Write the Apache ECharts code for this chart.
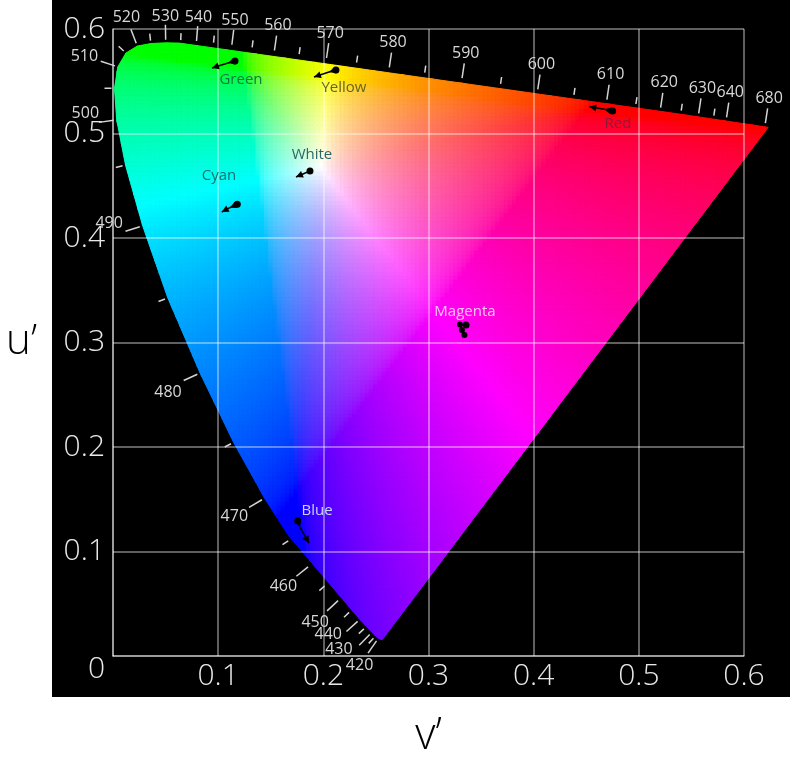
<!DOCTYPE html>
<html><head><meta charset="utf-8">
<script src="https://cdn.jsdelivr.net/npm/echarts/dist/echarts.min.js"></script>
<style>html,body{margin:0;padding:0;background:#fff}#c{width:790px;height:758px}</style>
</head><body><div id="c"></div>
<script>
// ---- Data ----
const wavelengths = [380,400,410,415,420,425,430,435,440,445,450,455,460,465,470,475,480,485,490,495,500,505,510,515,520,525,530,535,540,545,550,555,560,565,570,575,580,585,590,595,600,605,610,615,620,625,630,635,640,650,660,680,700];
const locusU = [.2568,.2557,.2545,.2535,.2522,.2496,.2461,.2407,.2347,.2266,.2161,.2033,.1877,.1690,.1441,.1147,.0828,.0521,.0282,.0119,.0035,.0014,.0046,.0123,.0231,.0360,.0501,.0643,.0792,.0953,.1127,.1319,.1531,.1766,.2026,.2312,.2623,.2960,.3315,.3681,.4035,.4379,.4692,.4968,.5203,.5399,.5565,.5709,.5830,.6005,.6109,.6199,.6234];
const locusV = [.0166,.0159,.0159,.0164,.0169,.0191,.0226,.0279,.0350,.0437,.0549,.0689,.0871,.1119,.1510,.2044,.2708,.3427,.4117,.4698,.5131,.5432,.5638,.5770,.5837,.5861,.5868,.5865,.5856,.5841,.5821,.5796,.5766,.5732,.5694,.5651,.5604,.5554,.5501,.5446,.5393,.5342,.5296,.5254,.5219,.5190,.5165,.5143,.5125,.5099,.5084,.5070,.5065];
const tickWavelengths = [420,425,430,435,440,445,450,455,460,465,470,475,480,485,490,495,500,505,510,515,520,525,530,535,540,545,550,555,560,565,570,575,580,585,590,595,600,605,610,615,620,625,630,635,640,680];
const labeledWavelengths = [420,430,440,450,460,470,480,490,500,510,520,530,540,550,560,570,580,590,600,610,620,630,640,680];
const axisTicks = [0,0.1,0.2,0.3,0.4,0.5,0.6];

const markerNames = ['Green','Yellow','Red','White','Cyan','Magenta','Blue'];
const markerPathU = [[.1160,.1093,.0941],[.2120,.2054,.1911],[.4751,.4672,.4529],[.1873,.1740],[.1182,.1110,.1034],[.3357,.3299,.3318,.3342],[.1756,.1778,.1864]];
const markerPathV = [[.5694,.5675,.5627],[.5608,.5589,.5541],[.5215,.5232,.5256],[.4641,.4584],[.4322,.4290,.4249],[.3167,.3172,.3120,.3072],[.1295,.1232,.1081]];
const markerLabelU = [.1217,.2196,.4802,.1892,.1008,.3347,.1940];
const markerLabelV = [.5512,.5435,.5091,.4794,.4593,.3292,.1388];

// ---- Styles ----
const markerLabelColors = ['#0f7a3c','#66661c','#8c1a3a','#2d6666','#157272','#f7c4f5','#c8d4ff'];
const markerArrow = [true,true,true,true,true,false,true];
const labelNudge = {500:[3,-11],490:[0,-13],480:[0,5],440:[-6,-8],430:[-9,-7]};
const cellStep = 0.004;
const satBoost = 0.3;
const gridColor = 'rgba(255,255,255,0.5)';

// ---- helpers ----
const poly = locusU.map((u,i)=>[u, locusV[i]]);
let area = 0;
for (let i=0;i<poly.length;i++){const a=poly[i],b=poly[(i+1)%poly.length];area+=a[0]*b[1]-b[0]*a[1];}
const sgn = area>0?1:-1;
const centroid = [poly.reduce((s,p)=>s+p[0],0)/poly.length, poly.reduce((s,p)=>s+p[1],0)/poly.length];

function clipPoly(subject){
  let out = subject;
  for (let i=0;i<poly.length;i++){
    const A=poly[i], B=poly[(i+1)%poly.length];
    const ex=B[0]-A[0], ey=B[1]-A[1];
    if (Math.abs(ex)+Math.abs(ey)<1e-9) continue;
    const inp=out; out=[];
    if(!inp.length) break;
    const cr = p => sgn*(ex*(p[1]-A[1]) - ey*(p[0]-A[0]));
    for (let j=0;j<inp.length;j++){
      const P=inp[j], Q=inp[(j+1)%inp.length];
      const cp=cr(P), cq=cr(Q);
      const pin=cp>=0, qin=cq>=0;
      if (pin){ out.push(P); if(!qin){const t=cp/(cp-cq); out.push([P[0]+t*(Q[0]-P[0]),P[1]+t*(Q[1]-P[1])]);} }
      else if (qin){ const t=cp/(cp-cq); out.push([P[0]+t*(Q[0]-P[0]),P[1]+t*(Q[1]-P[1])]); }
    }
  }
  return out;
}
function gam(c){return c<=0.0031308?12.92*c:1.055*Math.pow(c,1/2.4)-0.055;}
function chromaColor(u,v){
  const d=6*u-16*v+12; const x=9*u/d, y=4*v/d;
  const X=x/y, Y=1, Z=(1-x-y)/y;
  let r=3.2406*X-1.5372*Y-0.4986*Z, g=-0.9689*X+1.8758*Y+0.0415*Z, b=0.0557*X-0.2040*Y+1.0570*Z;
  r=Math.max(r,0); g=Math.max(g,0); b=Math.max(b,0);
  const m=Math.max(r,g,b)||1;
  r/=m; g/=m; b/=m;
  const mn=Math.min(r,g,b)*satBoost;
  if (mn<0.999){ r=(r-mn)/(1-mn); g=(g-mn)/(1-mn); b=(b-mn)/(1-mn); }
  r=Math.round(255*gam(r)); g=Math.round(255*gam(g)); b=Math.round(255*gam(b));
  return 'rgb('+r+','+g+','+b+')';
}

const cellPolys=[], cellData=[];
const nu=Math.ceil(0.63/cellStep), nv=Math.ceil(0.6/cellStep);
for (let i=0;i<nu;i++) for (let j=0;j<nv;j++){
  const u=i*cellStep, v=j*cellStep;
  const c=clipPoly([[u,v],[u+cellStep,v],[u+cellStep,v+cellStep],[u,v+cellStep]]);
  if (c.length>=3){ cellPolys.push(c); cellData.push([u+cellStep/2, v+cellStep/2, cellPolys.length-1]); }
}

const tickData = tickWavelengths.map(w=>{const i=wavelengths.indexOf(w); return [locusU[i],locusV[i],i,w];});
const markerData = markerNames.map((n,k)=>[markerLabelU[k],markerLabelV[k],k]);

const chart = echarts.init(document.getElementById('c'), null, {renderer:'canvas'});
chart.setOption({
  backgroundColor:'#ffffff',
  animation:false,
  graphic:[{type:'rect', z:-10, silent:true, shape:{x:52,y:0,width:738,height:697}, style:{fill:'#000'}}],
  grid:{left:113,right:46,top:29,bottom:102,containLabel:false,outerBoundsMode:'none'},
  xAxis:{
    type:'value', min:axisTicks[0], max:axisTicks[axisTicks.length-1], interval:0.1, z:10,
    name:'v’', nameLocation:'middle', nameGap:58,
    nameTextStyle:{color:'#000', fontSize:44, fontFamily:'"Open Sans", sans-serif', fontWeight:300},
    axisLine:{show:true, onZero:false, lineStyle:{color:gridColor, width:1.5}},
    axisTick:{show:false},
    axisLabel:{color:'#e8e8e8', fontSize:30, fontFamily:'"Open Sans", sans-serif', fontWeight:300, margin:5,
      formatter:v=> v===0?'':v.toFixed(1)},
    splitLine:{show:true, lineStyle:{color:gridColor, width:1.5}}
  },
  yAxis:{
    type:'value', min:axisTicks[0], max:axisTicks[axisTicks.length-1], interval:0.1, z:10,
    name:'u’', nameLocation:'middle', nameGap:76, nameRotate:0,
    nameTextStyle:{color:'#000', fontSize:42, fontFamily:'"Open Sans", sans-serif', fontWeight:300},
    axisLine:{show:true, onZero:false, lineStyle:{color:gridColor, width:1.5}},
    axisTick:{show:false},
    axisLabel:{color:'#e8e8e8', fontSize:30, fontFamily:'"Open Sans", sans-serif', fontWeight:300, margin:8,
      formatter:v=> v===0?'{z|0}':v.toFixed(1),
      rich:{z:{padding:[26,0,0,0], fontSize:30, color:'#e8e8e8', fontFamily:'"Open Sans", sans-serif', fontWeight:300}}},
    splitLine:{show:true, lineStyle:{color:gridColor, width:1.5}}
  },
  series:[
    {
      type:'custom', coordinateSystem:'cartesian2d', silent:true, z:1,
      dimensions:['u','v','k'], encode:{x:0,y:1},
      data:cellData,
      renderItem:(params,api)=>{
        const k=api.value(2);
        const pts=cellPolys[k].map(p=>api.coord(p));
        const col=chromaColor(api.value(0),api.value(1));
        return {type:'polygon', shape:{points:pts}, style:{fill:col, stroke:col, lineWidth:1}};
      }
    },
    {
      type:'custom', coordinateSystem:'cartesian2d', silent:true, z:20,
      dimensions:['u','v','i','w'], encode:{x:0,y:1},
      data:tickData,
      renderItem:(params,api)=>{
        const i=api.value(2), w=api.value(3);
        const p=api.coord([locusU[i],locusV[i]]);
        const a=api.coord([locusU[i-1],locusV[i-1]]), b=api.coord([locusU[i+1],locusV[i+1]]);
        let tx=b[0]-a[0], ty=b[1]-a[1]; const L=Math.hypot(tx,ty); tx/=L; ty/=L;
        let nx=ty, ny=-tx;
        const c=api.coord(centroid);
        if ((p[0]-c[0])*nx+(p[1]-c[1])*ny<0){nx=-nx;ny=-ny;}
        const major=labeledWavelengths.indexOf(w)>=0;
        const len=major?15:7, gap=3;
        const ch=[{type:'line', shape:{x1:p[0]+nx*gap,y1:p[1]+ny*gap,x2:p[0]+nx*(gap+len),y2:p[1]+ny*(gap+len)}, style:{stroke:'#d4d4d4', lineWidth:1.5}}];
        if (major){
          const r=Math.abs(nx)*14+Math.abs(ny)*6+2, d=gap+len+r, nd=labelNudge[w]||[0,0];
          ch.push({type:'text', x:p[0]+nx*d+nd[0], y:p[1]+ny*d+nd[1], style:{text:String(w), fill:'#d8d8d8', fontSize:16, fontFamily:'"Open Sans", sans-serif', align:'center', verticalAlign:'middle'}});
        }
        return {type:'group', children:ch};
      }
    },
    {
      type:'custom', coordinateSystem:'cartesian2d', silent:true, z:30,
      dimensions:['u','v','k'], encode:{x:0,y:1},
      data:markerData,
      renderItem:(params,api)=>{
        const k=api.value(2);
        const pts=markerPathU[k].map((u,j)=>api.coord([u,markerPathV[k][j]]));
        const ch=[{type:'polyline', shape:{points:pts}, style:{stroke:'#000', lineWidth:1.5, fill:null}}];
        ch.push({type:'circle', shape:{cx:pts[0][0],cy:pts[0][1],r:3.5}, style:{fill:'#000'}});
        for (let j=1;j<pts.length;j++){
          if (markerArrow[k]){
            let dx=pts[j][0]-pts[j-1][0], dy=pts[j][1]-pts[j-1][1]; const L=Math.hypot(dx,dy)||1; dx/=L; dy/=L;
            const tip=pts[j], bx=tip[0]-dx*7, by=tip[1]-dy*7;
            ch.push({type:'polygon', shape:{points:[[tip[0],tip[1]],[bx-dy*3.5,by+dx*3.5],[bx+dy*3.5,by-dx*3.5]]}, style:{fill:'#000'}});
          } else {
            ch.push({type:'circle', shape:{cx:pts[j][0],cy:pts[j][1],r:3}, style:{fill:'#000'}});
          }
        }
        const lp=api.coord([api.value(0),api.value(1)]);
        ch.push({type:'text', x:lp[0], y:lp[1], style:{text:markerNames[k], fill:markerLabelColors[k], fontSize:15, fontFamily:'"Open Sans", sans-serif', align:'center', verticalAlign:'middle'}});
        return {type:'group', children:ch};
      }
    }
  ]
});
</script></body></html>
